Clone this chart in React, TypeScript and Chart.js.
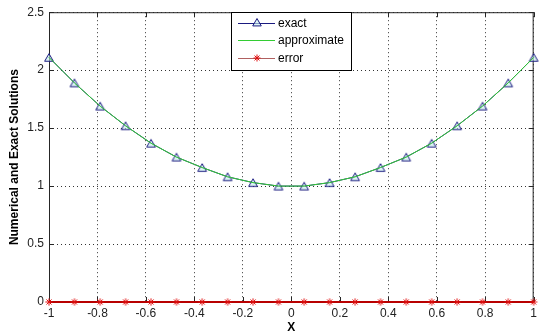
import React, { useEffect, useRef } from "react";
import { Chart, registerables } from "chart.js";

Chart.register(...registerables);

const xValues = [
  -1, -0.895, -0.789, -0.684, -0.579, -0.474, -0.368, -0.263, -0.158, -0.053,
  0.053, 0.158, 0.263, 0.368, 0.474, 0.579, 0.684, 0.789, 0.895, 1,
];
const exactValues = [
  2.11, 1.89, 1.69, 1.52, 1.37, 1.25, 1.16, 1.08, 1.03, 1.0,
  1.0, 1.03, 1.08, 1.16, 1.25, 1.37, 1.52, 1.69, 1.89, 2.11,
];
const approxValues = [
  2.11, 1.89, 1.69, 1.52, 1.37, 1.25, 1.16, 1.08, 1.03, 1.0,
  1.0, 1.03, 1.08, 1.16, 1.25, 1.37, 1.52, 1.69, 1.89, 2.11,
];
const errorValues = [
  0, 0, 0, 0, 0, 0, 0, 0, 0, 0, 0, 0, 0, 0, 0, 0, 0, 0, 0, 0,
];
const xTicks = [-1, -0.8, -0.6, -0.4, -0.2, 0, 0.2, 0.4, 0.6, 0.8, 1];
const yTicks = [0, 0.5, 1, 1.5, 2, 2.5];
const legendLabels = ["exact", "approximate", "error"];

const FONT = "'Liberation Sans', Arial, sans-serif";
const EXACT_COLOR = "#1a1a80";
const APPROX_COLOR = "#33cc33";
const ERROR_COLOR = "#b80000";

function drawTriangle(ctx: CanvasRenderingContext2D, x: number, y: number, r: number) {
  ctx.beginPath();
  ctx.moveTo(x, y - r);
  ctx.lineTo(x + r * 0.95, y + r * 0.65);
  ctx.lineTo(x - r * 0.95, y + r * 0.65);
  ctx.closePath();
  ctx.fillStyle = "rgba(200,238,238,0.6)";
  ctx.fill();
  ctx.strokeStyle = EXACT_COLOR;
  ctx.lineWidth = 1;
  ctx.stroke();
}

function drawStar(ctx: CanvasRenderingContext2D, x: number, y: number, r: number) {
  ctx.beginPath();
  ctx.moveTo(x - r, y);
  ctx.lineTo(x + r, y);
  ctx.moveTo(x, y - r);
  ctx.lineTo(x, y + r);
  const d = r * 0.7;
  ctx.moveTo(x - d, y - d);
  ctx.lineTo(x + d, y + d);
  ctx.moveTo(x - d, y + d);
  ctx.lineTo(x + d, y - d);
  ctx.strokeStyle = "#e01010";
  ctx.lineWidth = 1;
  ctx.stroke();
}

const framePlugin = {
  id: "matlabFrame",
  beforeDatasetsDraw(chart: any) {
    const { ctx, chartArea, scales } = chart;
    const { left, right, top, bottom } = chartArea;
    ctx.save();
    ctx.strokeStyle = "#262626";
    ctx.lineWidth = 1;
    ctx.strokeRect(left + 0.5, top + 0.5, right - left - 1, bottom - top);
    const tl = 5;
    ctx.beginPath();
    xTicks.forEach((v) => {
      const px = Math.round(scales.x.getPixelForValue(v)) + 0.5;
      ctx.moveTo(px, bottom);
      ctx.lineTo(px, bottom - tl);
      ctx.moveTo(px, top);
      ctx.lineTo(px, top + tl);
    });
    yTicks.forEach((v) => {
      const py = Math.round(scales.y.getPixelForValue(v)) + 0.5;
      ctx.moveTo(left, py);
      ctx.lineTo(left + tl, py);
      ctx.moveTo(right, py);
      ctx.lineTo(right - tl, py);
    });
    ctx.stroke();
    ctx.restore();
  },
  afterDraw(chart: any) {
    const { ctx } = chart;
    ctx.save();
    const bx = 231.5;
    const by = 12.5;
    const bw = 120;
    const bh = 58;
    ctx.fillStyle = "#ffffff";
    ctx.fillRect(bx, by, bw, bh);
    ctx.strokeStyle = "#000000";
    ctx.lineWidth = 1;
    ctx.strokeRect(bx, by, bw, bh);
    const rows = [23, 40, 58];
    const colors = [EXACT_COLOR, APPROX_COLOR, "#b06060"];
    rows.forEach((ry, i) => {
      ctx.beginPath();
      ctx.moveTo(238, ry + 0.5);
      ctx.lineTo(275, ry + 0.5);
      ctx.strokeStyle = colors[i];
      ctx.lineWidth = 1;
      ctx.stroke();
      if (i === 0) drawTriangle(ctx, 257, ry, 4.5);
      if (i === 2) drawStar(ctx, 257, ry, 3.5);
      ctx.fillStyle = "#000000";
      ctx.font = `12px ${FONT}`;
      ctx.textBaseline = "middle";
      ctx.textAlign = "left";
      ctx.fillText(legendLabels[i], 278, ry + 0.5);
    });
    ctx.restore();
  },
};

const trianglePoint = (() => {
  if (typeof document === "undefined") return "triangle";
  const c = document.createElement("canvas");
  c.width = 12;
  c.height = 11;
  const cx = c.getContext("2d")!;
  drawTriangle(cx, 6, 6.3, 4.6);
  return c;
})();

const starPoint = (() => {
  if (typeof document === "undefined") return "star";
  const c = document.createElement("canvas");
  c.width = 10;
  c.height = 10;
  const cx = c.getContext("2d")!;
  drawStar(cx, 5, 5, 3.6);
  return c;
})();

export default function App() {
  const ref = useRef<HTMLCanvasElement>(null);

  useEffect(() => {
    document.body.style.margin = "0";
    const canvas = ref.current!;
    const chart = new Chart(canvas, {
      type: "line",
      data: {
        datasets: [
          {
            label: legendLabels[2],
            data: xValues.map((x, i) => ({ x, y: errorValues[i] })),
            borderColor: ERROR_COLOR,
            borderWidth: 2,
            pointStyle: starPoint as any,
            pointRadius: 4,
            tension: 0,
            clip: false as any,
            order: 0,
          },
          {
            label: legendLabels[1],
            data: xValues.map((x, i) => ({ x, y: approxValues[i] })),
            borderColor: APPROX_COLOR,
            borderWidth: 1,
            pointRadius: 0,
            tension: 0,
            clip: false as any,
            order: 1,
          },
          {
            label: legendLabels[0],
            data: xValues.map((x, i) => ({ x, y: exactValues[i] })),
            borderColor: EXACT_COLOR,
            borderWidth: 1,
            pointStyle: trianglePoint as any,
            pointRadius: 5,
            tension: 0,
            clip: false as any,
            order: 2,
          },
        ],
      },
      options: {
        animation: false,
        responsive: false,
        devicePixelRatio: 1,
        layout: { padding: { top: 12, right: 5, left: 0, bottom: 0 } },
        plugins: {
          legend: { display: false },
          tooltip: { enabled: false },
        },
        scales: {
          x: {
            type: "linear",
            min: -1,
            max: 1,
            afterFit: (s: any) => {
              s.height = 34;
            },
            afterBuildTicks: (s: any) => {
              s.ticks = xTicks.map((v) => ({ value: v }));
            },
            ticks: {
              color: "#222",
              font: { family: FONT, size: 12 },
              padding: 4,
              maxRotation: 0,
              autoSkip: false,
              callback: (v: any) => String(v),
            },
            grid: {
              color: "#333",
              lineWidth: 1,
              drawTicks: false,
            },
            border: { display: false, dash: [1, 3] },
            title: {
              display: true,
              text: "X",
              color: "#000",
              font: { family: FONT, size: 12, weight: "bold" },
              padding: { top: 0, bottom: 1 },
            },
          },
          y: {
            type: "linear",
            min: 0,
            max: 2.5,
            afterFit: (s: any) => {
              s.width = 49;
            },
            afterBuildTicks: (s: any) => {
              s.ticks = yTicks.map((v) => ({ value: v }));
            },
            ticks: {
              color: "#222",
              font: { family: FONT, size: 12 },
              padding: 5,
              callback: (v: any) => String(v),
            },
            grid: {
              color: "#333",
              lineWidth: 1,
              drawTicks: false,
            },
            border: { display: false, dash: [1, 3] },
            title: {
              display: true,
              text: "Numerical and Exact Solutions",
              color: "#000",
              font: { family: FONT, size: 12, weight: "bold" },
              padding: { top: 7, bottom: 0 },
            },
          },
        },
      },
      plugins: [framePlugin],
    });
    return () => chart.destroy();
  }, []);

  return (
    <div style={{ width: 541, height: 336 }}>
      <canvas ref={ref} width={541} height={336} style={{ display: "block" }} />
    </div>
  );
}
